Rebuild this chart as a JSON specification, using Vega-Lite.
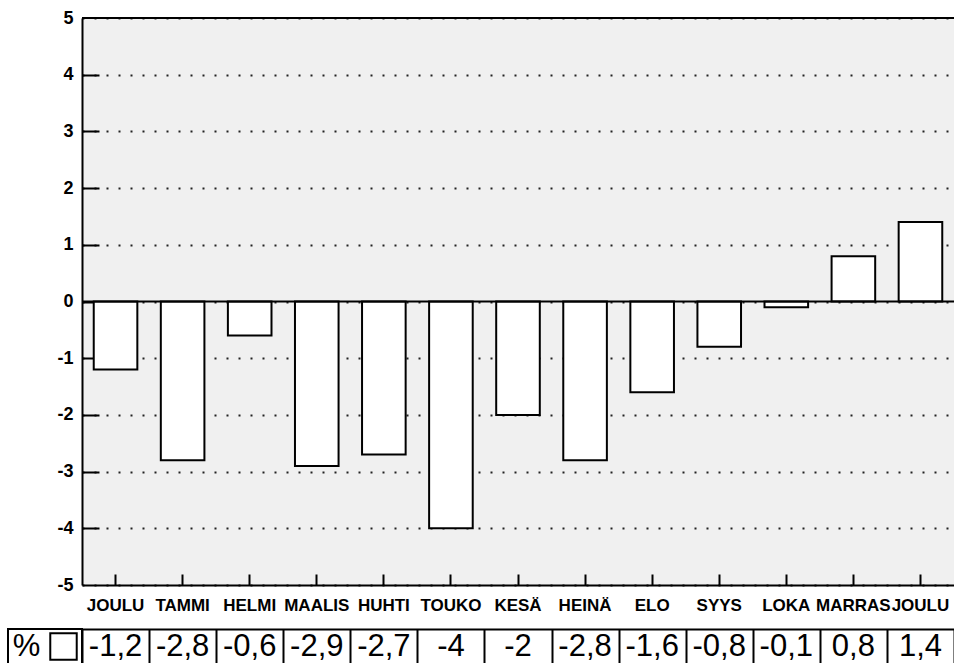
{
  "$schema": "https://vega.github.io/schema/vega-lite/v6.json",
  "padding": {"left": 7, "top": 9, "right": 0, "bottom": 0},
  "background": "white",
  "datasets": {
    "kk": [
      {"kuukausi": "JOULU", "muutos": -1.2},
      {"kuukausi": "TAMMI", "muutos": -2.8},
      {"kuukausi": "HELMI", "muutos": -0.6},
      {"kuukausi": "MAALIS", "muutos": -2.9},
      {"kuukausi": "HUHTI", "muutos": -2.7},
      {"kuukausi": "TOUKO", "muutos": -4},
      {"kuukausi": "KESÄ", "muutos": -2},
      {"kuukausi": "HEINÄ", "muutos": -2.8},
      {"kuukausi": "ELO", "muutos": -1.6},
      {"kuukausi": "SYYS", "muutos": -0.8},
      {"kuukausi": "LOKA", "muutos": -0.1},
      {"kuukausi": "MARRAS", "muutos": 0.8},
      {"kuukausi": "JOULU ", "muutos": 1.4}
    ],
    "pct": [
      {"osa": "%"},
      {"osa": "box"}
    ],
    "one": [{}]
  },
  "columns": 2,
  "bounds": "flush",
  "spacing": {"row": 44, "column": 0},
  "concat": [
    {
      "data": {"name": "one"},
      "width": 74,
      "height": 567,
      "view": {"stroke": null},
      "mark": {"type": "text", "text": " ", "opacity": 0}
    },
    {
      "width": 872,
      "height": 567,
      "view": {"fill": "#f0f0f0", "stroke": null},
      "resolve": {"axis": {"x": "independent", "y": "independent"}},
      "layer": [
        {
          "data": {"name": "kk"},
          "mark": {"type": "bar", "fill": "white", "stroke": "black", "strokeWidth": 2, "width": {"band": 0.65}},
          "encoding": {
            "x": {
              "field": "kuukausi",
              "type": "nominal",
              "sort": null,
              "scale": {"paddingInner": 0, "paddingOuter": 0},
              "axis": {
                "orient": "bottom",
                "title": null,
                "labelAngle": 0,
                "labelExpr": "trim(datum.label)",
                "labelFont": "Liberation Sans",
                "labelFontWeight": "bold",
                "labelFontSize": 17,
                "labelColor": "black",
                "labelPadding": 20,
                "labelBaseline": "middle",
                "domainColor": "black",
                "domainWidth": 2,
                "ticks": false,
                "grid": false
              }
            },
            "y": {
              "field": "muutos",
              "type": "quantitative",
              "scale": {"domain": [-5, 5], "nice": false},
              "axis": {
                "orient": "left",
                "title": null,
                "values": [-5, -4, -3, -2, -1, 0, 1, 2, 3, 4, 5],
                "format": "d",
                "labelFont": "Liberation Sans",
                "labelFontWeight": "bold",
                "labelFontSize": 18,
                "labelColor": "black",
                "labelPadding": 9,
                "domainColor": "black",
                "domainWidth": 2,
                "ticks": false,
                "grid": true,
                "gridColor": "#222222",
                "gridWidth": 2,
                "gridDash": [2, 10],
                "gridCap": "butt"
              }
            }
          }
        },
        {
          "data": {"name": "kk"},
          "mark": {"type": "point", "opacity": 0},
          "encoding": {
            "x": {
              "field": "kuukausi",
              "type": "nominal",
              "sort": null,
              "axis": {
                "orient": "bottom",
                "title": null,
                "offset": -11,
                "tickSize": 11,
                "tickWidth": 2,
                "tickColor": "black",
                "labels": false,
                "domain": false,
                "grid": false
              }
            },
            "y": {
              "field": "muutos",
              "type": "quantitative",
              "axis": {
                "orient": "left",
                "title": null,
                "offset": -17,
                "values": [-4, -3, -2, -1, 0, 1, 2, 3, 4],
                "tickSize": 17,
                "tickWidth": 2,
                "tickColor": "black",
                "labels": false,
                "domain": false,
                "grid": false
              }
            }
          }
        },
        {
          "data": {"name": "one"},
          "mark": {"type": "rule", "color": "black", "strokeWidth": 2},
          "encoding": {"y": {"datum": 0, "axis": null}}
        },
        {
          "data": {"name": "one"},
          "mark": {"type": "rule", "color": "black", "strokeWidth": 2},
          "encoding": {"y": {"datum": 5, "axis": null}}
        }
      ]
    },
    {
      "data": {"name": "pct"},
      "width": 74,
      "height": 35,
      "view": {"stroke": "black", "strokeWidth": 2},
      "encoding": {
        "x": {
          "field": "osa",
          "type": "nominal",
          "sort": null,
          "scale": {"paddingInner": 0, "paddingOuter": 0},
          "axis": null
        }
      },
      "layer": [
        {
          "transform": [{"filter": "datum.osa == '%'"}],
          "mark": {"type": "text", "font": "Liberation Sans", "fontSize": 31, "color": "black", "baseline": "middle"},
          "encoding": {"text": {"field": "osa"}}
        },
        {
          "transform": [{"filter": "datum.osa == 'box'"}],
          "mark": {"type": "square", "size": 700, "filled": true, "fill": "white", "stroke": "black", "strokeWidth": 2, "opacity": 1}
        }
      ]
    },
    {
      "data": {"name": "kk"},
      "width": 872,
      "height": 35,
      "view": {"stroke": null},
      "mark": {"type": "text", "font": "Liberation Sans", "fontSize": 31, "color": "black", "baseline": "middle"},
      "encoding": {
        "x": {
          "field": "kuukausi",
          "type": "nominal",
          "sort": null,
          "scale": {"paddingInner": 0, "paddingOuter": 0},
          "axis": {
            "orient": "top",
            "title": null,
            "labels": false,
            "ticks": false,
            "domain": true,
            "domainColor": "black",
            "domainWidth": 2,
            "grid": true,
            "gridColor": "black",
            "gridWidth": 2,
            "tickBand": "extent"
          }
        },
        "text": {"field": "muutos", "type": "quantitative", "format": "~g"}
      }
    }
  ],
  "config": {
    "view": {"stroke": null},
    "locale": {
      "number": {
        "decimal": ",",
        "thousands": " ",
        "grouping": [3],
        "currency": ["", " €"],
        "minus": "-"
      }
    }
  }
}
